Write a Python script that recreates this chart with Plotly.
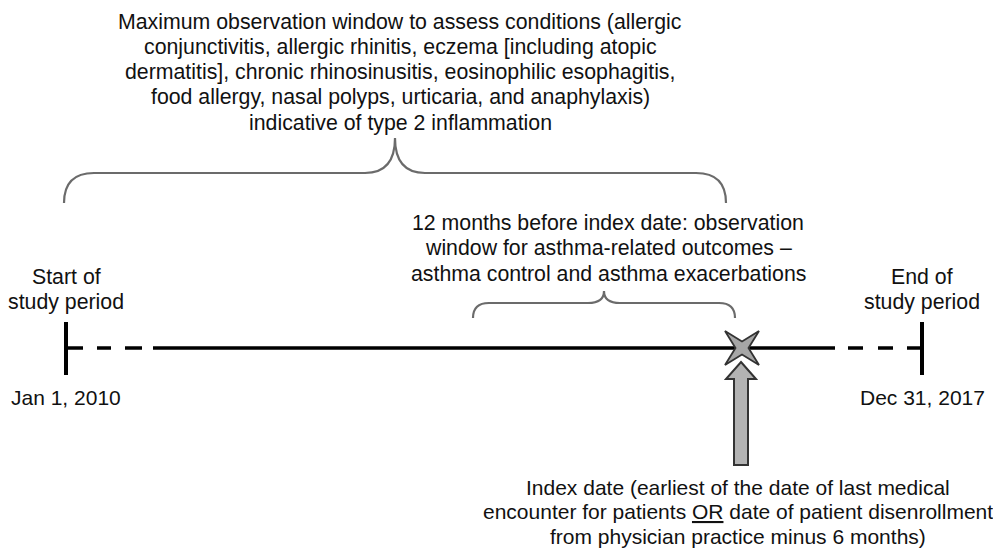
import plotly.graph_objects as go

# texts of the timeline
t2_window = ["Maximum observation window to assess conditions (allergic",
             "conjunctivitis, allergic rhinitis, eczema [including atopic",
             "dermatitis], chronic rhinosinusitis, eosinophilic esophagitis,",
             "food allergy, nasal polyps, urticaria, and anaphylaxis)",
             "indicative of type 2 inflammation"]
asthma_window = ["12 months before index date: observation",
                 "window for asthma-related outcomes \u2013",
                 "asthma control and asthma exacerbations"]
index_date = ["Index date (earliest of the date of last medical",
              "encounter for patients <u>OR</u> date of patient disenrollment",
              "from physician practice minus 6 months)"]
start_label = ["Start of", "study period"]
end_label = ["End of", "study period"]
start_date = "Jan 1, 2010"
end_date = "Dec 31, 2017"

W, H = 1001, 550
OFF = 8  # page body margin of the html file

x0, x1 = 66, 922   # start / end ticks
xi = 742           # index date
yl = 348           # timeline

fig = go.Figure()
shapes = []
annos = []

def text_block(lines, cx, cy0, size=21.3, lh=25.3):
    font = dict(family="Liberation Sans, Arial", size=size, color="#111111")
    for i, s in enumerate(lines):
        annos.append(dict(x=cx, y=cy0 + i * lh, text=s, showarrow=False,
                          xanchor="center", yanchor="middle", font=font))

def seg(xa, xb, ya, yb, w=3.5, color="black"):
    shapes.append(dict(type="line", x0=xa, x1=xb, y0=ya, y1=yb,
                       line=dict(color=color, width=w)))

# timeline: dashed ends, solid middle
for a, b in [(x0, 83), (97, 111), (125, 142), (848, 863), (878, 893), (907, x1)]:
    seg(a, b, yl, yl)
seg(153, 835, yl, yl)
seg(x0, x0, 322, 375, w=4)
seg(x1, x1, 322, 375, w=4)

# braces
def brace(xa, xb, yb, ye, tip, r):
    xm = (xa + xb) / 2
    p = (f"M {xa} {ye} Q {xa} {yb} {xa + r} {yb} L {xm - r} {yb} "
         f"Q {xm} {yb} {xm} {tip} Q {xm} {yb} {xm + r} {yb} "
         f"L {xb - r} {yb} Q {xb} {yb} {xb} {ye}")
    shapes.append(dict(type="path", path=p, line=dict(color="#6b6b6b", width=2.2)))

brace(64, 726, 173, 203, 138, 30)
brace(473, 735, 303, 318, 291, 16)

# star at the index date
s_o, s_i = 17, 6.5
star = (f"M {xi - s_o} {yl - s_o} L {xi} {yl - s_i} L {xi + s_o} {yl - s_o} "
        f"L {xi + s_i} {yl} L {xi + s_o} {yl + s_o} L {xi} {yl + s_i} "
        f"L {xi - s_o} {yl + s_o} L {xi - s_i} {yl} Z")
shapes.append(dict(type="path", path=star, fillcolor="#a6a6a6",
                   line=dict(color="#333333", width=1.8)))

# arrow pointing up at the index date
arrow = (f"M {xi - 1} 362 L {xi + 14} 379 L {xi + 6} 379 L {xi + 6} 465 "
         f"L {xi - 8} 465 L {xi - 8} 379 L {xi - 16} 379 Z")
shapes.append(dict(type="path", path=arrow, fillcolor="#b3b3b3",
                   line=dict(color="#333333", width=2)))

text_block(t2_window, 400, 21.5)
text_block(asthma_window, 608, 223)
text_block(start_label, x0, 277)
text_block(end_label, x1, 277)
text_block([start_date], x0, 397, size=21)
text_block([end_date], x1, 397, size=21)
text_block(index_date, 738, 487, size=21, lh=24.5)

fig.update_layout(width=W - OFF, height=H - OFF, margin=dict(l=0, r=0, t=0, b=0),
                  plot_bgcolor="white", paper_bgcolor="white",
                  shapes=shapes, annotations=annos, showlegend=False,
                  xaxis=dict(range=[OFF, W], visible=False, fixedrange=True),
                  yaxis=dict(range=[H, OFF], visible=False, fixedrange=True))

fig.write_html("out.html")
